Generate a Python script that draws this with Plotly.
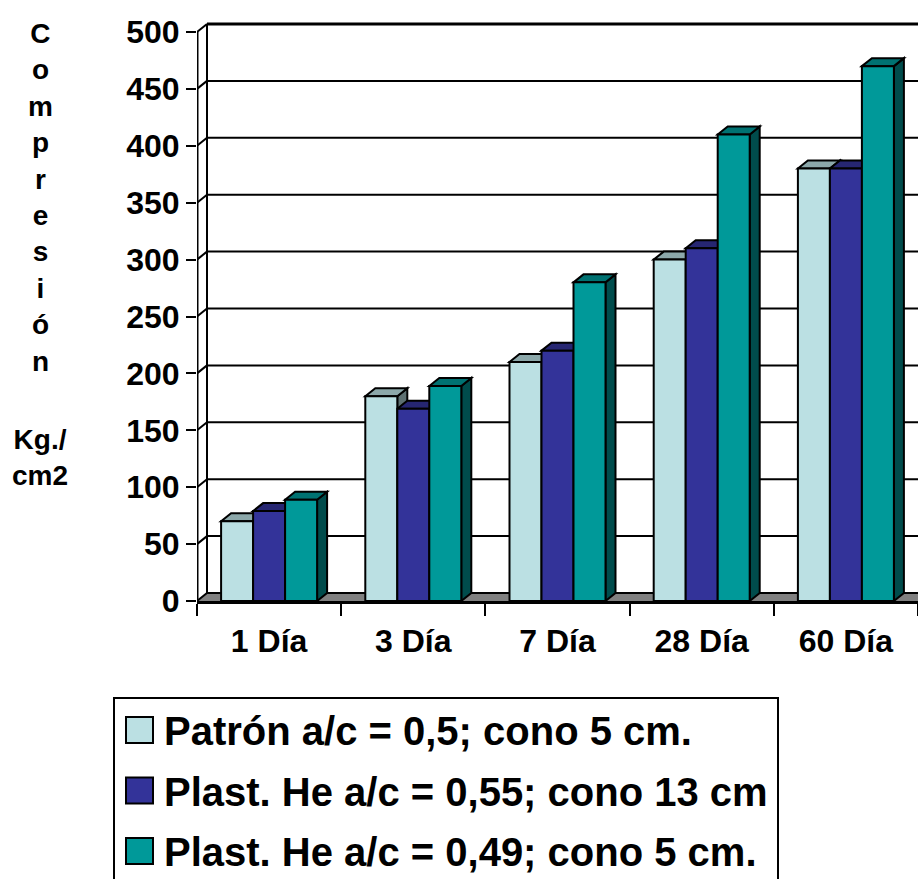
import plotly.graph_objects as go

# ---------------- data ----------------
categories = ["1 Día", "3 Día", "7 Día", "28 Día", "60 Día"]
series_names = [
    "Patrón a/c = 0,5; cono 5 cm.",
    "Plast. He a/c = 0,55; cono 13 cm",
    "Plast. He a/c = 0,49; cono 5 cm.",
]
patron = [70, 180, 210, 300, 380]
plast_055 = [79, 169, 220, 310, 380]
plast_049 = [89, 189, 280, 410, 470]
y_ticks = [0, 50, 100, 150, 200, 250, 300, 350, 400, 450, 500]
y_title_letters = ["C", "o", "m", "p", "r", "e", "s", "i", "ó", "n"]
y_title_units = ["Kg./", "cm2"]

series_values = [patron, plast_055, plast_049]
series_colors = ["#BBE0E3", "#333399", "#009999"]

# ---------------- geometry ----------------
W, H = 918, 879
L, R, T, B = 197, 0, 21, 278
plot_w = W - L - R
plot_h = H - T - B
px_per_unit = 569 / 500.0
ymax = plot_h / px_per_unit
px_per_cat = plot_w / len(categories)
DX = 10 / px_per_cat      # depth offset in x units
DY = 8 / px_per_unit      # depth offset in y units
bar_w = 32 / px_per_cat
FONT = "Liberation Sans, Arial, Helvetica, sans-serif"


def shade(hexcol, f):
    h = hexcol.lstrip("#")
    r, g, b = (int(h[i:i + 2], 16) for i in (0, 2, 4))
    return "#%02x%02x%02x" % (int(r * f), int(g * f), int(b * f))


def pxx(px):
    return (px - L) / plot_w


def pxy(py):
    return (H - B - py) / plot_h


x_left = -0.5
x_right = len(categories) - 0.5

shapes = []
# floor
shapes.append(dict(type="path", xref="x", yref="y", layer="below",
                   path=f"M {x_left},0 L {x_right},0 L {x_right + DX},{DY} L {x_left + DX},{DY} Z",
                   fillcolor="#808080", line=dict(color="#808080", width=1)))
# back wall gridlines
for v in y_ticks:
    shapes.append(dict(type="line", xref="x", yref="y", layer="below",
                       x0=x_left + DX, x1=x_right + DX, y0=v + DY, y1=v + DY,
                       line=dict(color="black", width=3 if v == y_ticks[-1] else 2)))
# back wall left edge
shapes.append(dict(type="line", xref="x", yref="y", layer="below",
                   x0=x_left + DX, x1=x_left + DX, y0=DY, y1=y_ticks[-1] + DY,
                   line=dict(color="black", width=2)))

# 3D faces of the bars (top & right side)
for i in range(len(categories)):
    for j, vals in enumerate(series_values):
        h = vals[i]
        a = i + (j - 1.5) * bar_w
        b = a + bar_w
        col = series_colors[j]
        shapes.append(dict(type="path", xref="x", yref="y", layer="below",
                           path=f"M {b},0 L {b + DX},{DY} L {b + DX},{h + DY} L {b},{h} Z",
                           fillcolor=shade(col, 0.5), line=dict(color="black", width=2)))
        shapes.append(dict(type="path", xref="x", yref="y", layer="below",
                           path=f"M {a},{h} L {a + DX},{h + DY} L {b + DX},{h + DY} L {b},{h} Z",
                           fillcolor=shade(col, 0.75), line=dict(color="black", width=2)))

fig = go.Figure()
for j, vals in enumerate(series_values):
    fig.add_trace(go.Bar(
        x=list(range(len(categories))), y=vals, name=series_names[j],
        width=bar_w, offset=(j - 1.5) * bar_w,
        marker=dict(color=series_colors[j], line=dict(color="black", width=2)),
        showlegend=False, hoverinfo="skip",
    ))

# front axis + side wall tick diagonals
fx, fy = [x_left, x_left], [0, y_ticks[-1]]
fig.add_trace(go.Scatter(x=fx, y=fy, mode="lines", line=dict(color="black", width=3),
                         cliponaxis=False, showlegend=False, hoverinfo="skip"))
dx_, dy_ = [], []
for v in y_ticks:
    dx_ += [x_left, x_left + DX, None]
    dy_ += [v, v + DY, None]
fig.add_trace(go.Scatter(x=dx_, y=dy_, mode="lines", line=dict(color="black", width=2),
                         cliponaxis=False, showlegend=False, hoverinfo="skip"))

# custom legend
shapes.append(dict(type="rect", xref="paper", yref="paper",
                   x0=pxx(114), x1=pxx(778), y0=pxy(698), y1=pxy(905),
                   line=dict(color="black", width=2), fillcolor="rgba(0,0,0,0)"))
annotations = []
for r, name in enumerate(series_names):
    cy = 730 + 60.5 * r
    shapes.append(dict(type="rect", xref="paper", yref="paper",
                       x0=pxx(126), x1=pxx(153), y0=pxy(cy - 13), y1=pxy(cy + 13),
                       line=dict(color="black", width=2), fillcolor=series_colors[r]))
    annotations.append(dict(xref="paper", yref="paper", x=pxx(162), y=pxy(cy + 1),
                            xanchor="left", yanchor="middle", showarrow=False, text=name,
                            font=dict(family=FONT, size=40, color="black", weight="bold")))

annotations.append(dict(xref="paper", yref="paper", x=pxx(40), y=pxy(16),
                        xanchor="center", yanchor="top", showarrow=False, align="center",
                        text="<br>".join(y_title_letters),
                        font=dict(family=FONT, size=28, color="black", weight="bold")))
annotations.append(dict(xref="paper", yref="paper", x=pxx(40), y=pxy(422),
                        xanchor="center", yanchor="top", showarrow=False, align="center",
                        text="<br>".join(y_title_units),
                        font=dict(family=FONT, size=28, color="black", weight="bold")))

fig.update_layout(
    width=W, height=H,
    margin=dict(l=L, r=R, t=T, b=B, pad=0),
    paper_bgcolor="white", plot_bgcolor="white",
    barmode="overlay",
    font=dict(family=FONT, color="black", weight="bold"),
    shapes=shapes, annotations=annotations,
    showlegend=False,
    xaxis=dict(range=[x_left, x_right], tickmode="array",
               tickvals=list(range(len(categories))), ticktext=categories,
               ticks="outside", ticklen=10, tickcolor="rgba(0,0,0,0)",
               minor=dict(tickmode="array", tickvals=[x_left + k for k in range(len(categories) + 1)],
                          ticks="outside", ticklen=12, tickwidth=2, tickcolor="black", showgrid=False),
               showgrid=False, zeroline=False, showline=True, linecolor="black", linewidth=3,
               tickfont=dict(family=FONT, size=32, color="black", weight="bold"),
               automargin=False, fixedrange=True),
    yaxis=dict(range=[0, ymax], tickmode="array", tickvals=y_ticks,
               ticktext=[str(v) for v in y_ticks],
               ticks="outside", ticklen=10, tickwidth=2, tickcolor="black",
               showgrid=False, zeroline=False, showline=False,
               tickfont=dict(family=FONT, size=32, color="black", weight="bold"),
               automargin=False, fixedrange=True),
)

fig.write_html("out.html")
